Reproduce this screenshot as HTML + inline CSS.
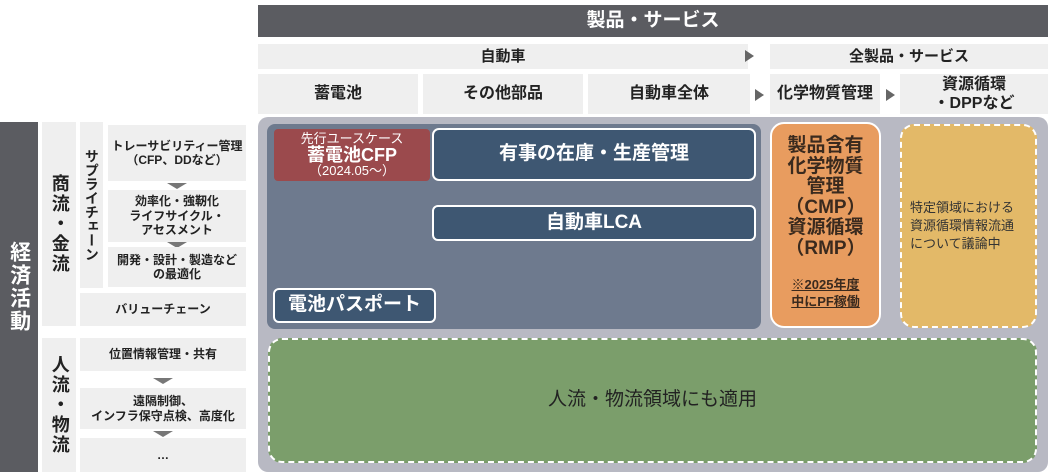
<html><head><style>
body{margin:0;width:1051px;height:472px;background:#fff;position:relative;overflow:hidden;font-family:"Liberation Sans","Noto Sans CJK JP",sans-serif;font-weight:bold;color:#222}
.a{position:absolute;box-sizing:border-box;display:flex;align-items:center;justify-content:center;text-align:center;line-height:1.2}
.g{background:#efefef}
.v{writing-mode:vertical-rl;letter-spacing:2px}
.tri{position:absolute;width:0;height:0;border-left:10px solid transparent;border-right:10px solid transparent;border-top:6px solid #777}
.ar{position:absolute;width:0;height:0;border-top:6px solid transparent;border-bottom:6px solid transparent;border-left:9px solid #666}
</style></head><body>
<div class="a" style="left:258px;top:5px;width:790px;height:32px;background:#5b5c61;color:#fff;font-size:19px">製品・サービス</div>
<div class="a g" style="left:258px;top:44px;width:490px;height:25px;font-size:15px">自動車</div>
<div class="ar" style="left:745px;top:50px"></div>
<div class="a g" style="left:770px;top:44px;width:278px;height:25px;font-size:15px">全製品・サービス</div>
<div class="a g" style="left:258px;top:74px;width:160px;height:40px;font-size:16px">蓄電池</div>
<div class="a g" style="left:423px;top:74px;width:160px;height:40px;font-size:16px">その他部品</div>
<div class="a g" style="left:588px;top:74px;width:162px;height:40px;font-size:16px">自動車全体</div>
<div class="ar" style="left:755px;top:89px"></div>
<div class="a g" style="left:770px;top:74px;width:110px;height:40px;font-size:16px">化学物質管理</div>
<div class="ar" style="left:886px;top:89px"></div>
<div class="a g" style="left:900px;top:74px;width:148px;height:40px;font-size:16px">資源循環<br>・DPPなど</div>

<div class="a v" style="left:0;top:122px;width:38px;height:350px;background:#5b5c61;color:#fff;font-size:21px;padding-bottom:20px">経済活動</div>
<div class="a g v" style="left:42px;top:122px;width:34px;height:204px;font-size:18px">商流・金流</div>
<div class="a g v" style="left:42px;top:338px;width:34px;height:134px;font-size:18px">人流・物流</div>
<div class="a g v" style="left:80px;top:122px;width:23px;height:166px;font-size:14px;letter-spacing:0">サプライチェーン</div>
<div class="a g" style="left:108px;top:125px;width:138px;height:56px;font-size:12px">トレーサビリティー管理<br>（CFP、DDなど）</div>
<div class="tri" style="left:167px;top:183px"></div>
<div class="a g" style="left:108px;top:190px;width:138px;height:52px;font-size:12px">効率化・強靭化<br>ライフサイクル・<br>アセスメント</div>
<div class="tri" style="left:167px;top:242px"></div>
<div class="a g" style="left:108px;top:247px;width:138px;height:40px;font-size:12px">開発・設計・製造など<br>の最適化</div>
<div class="a g" style="left:80px;top:293px;width:166px;height:33px;font-size:12px">バリューチェーン</div>
<div class="a g" style="left:80px;top:338px;width:166px;height:33px;font-size:12px">位置情報管理・共有</div>
<div class="tri" style="left:153px;top:378px"></div>
<div class="a g" style="left:80px;top:388px;width:166px;height:41px;font-size:12px">遠隔制御、<br>インフラ保守点検、高度化</div>
<div class="tri" style="left:153px;top:431px"></div>
<div class="a g" style="left:80px;top:438px;width:166px;height:34px;font-size:12px">…</div>

<div class="a" style="left:258px;top:117px;width:790px;height:355px;background:#b8b9c3;border-radius:10px"></div>
<div class="a" style="left:267px;top:124px;width:494px;height:205px;background:#6e7a8e;border-radius:8px"></div>
<div class="a" style="left:274px;top:129px;width:156px;height:52px;background:#9b4a4d;border-radius:4px;color:#fff;flex-direction:column;font-weight:normal;line-height:1.05"><span style="font-size:13px">先行ユースケース</span><span style="font-size:18px;font-weight:bold">蓄電池CFP</span><span style="font-size:13px">（2024.05～）</span></div>
<div class="a" style="left:432px;top:128px;width:324px;height:53px;background:#3e5772;border:2px solid #fff;border-radius:7px;color:#fff;font-size:19px">有事の在庫・生産管理</div>
<div class="a" style="left:432px;top:205px;width:324px;height:36px;background:#3e5772;border:2px solid #fff;border-radius:6px;color:#fff;font-size:19px">自動車LCA</div>
<div class="a" style="left:273px;top:288px;width:163px;height:35px;background:#3e5772;border:2px solid #fff;border-radius:6px;color:#fff;font-size:19px">電池パスポート</div>
<div class="a" style="left:770px;top:122px;width:111px;height:206px;background:#e89c5f;border:2px solid #fff;border-radius:14px;flex-direction:column;justify-content:flex-start;padding-top:12px;font-size:19px;line-height:1.08;color:#3a2a1e">製品含有<br>化学物質<br>管理<br>（CMP）<br>資源循環<br>（RMP）<div style="font-size:13px;text-decoration:underline;margin-top:18px;line-height:1.3">※2025年度<br>中にPF稼働</div></div>
<div class="a" style="left:900px;top:124px;width:137px;height:204px;background:#e3b968;border:2px dashed #fff;border-radius:14px;font-size:13px;font-weight:normal;text-align:left;justify-content:flex-start;padding-left:8px;line-height:1.4;color:#333">特定領域における<br>資源循環情報流通<br>について議論中</div>
<div class="a" style="left:268px;top:338px;width:769px;height:125px;background:#7b9e6b;border:2px dashed #fff;border-radius:14px;font-size:19px;font-weight:normal;color:#222">人流・物流領域にも適用</div>
</body></html>
